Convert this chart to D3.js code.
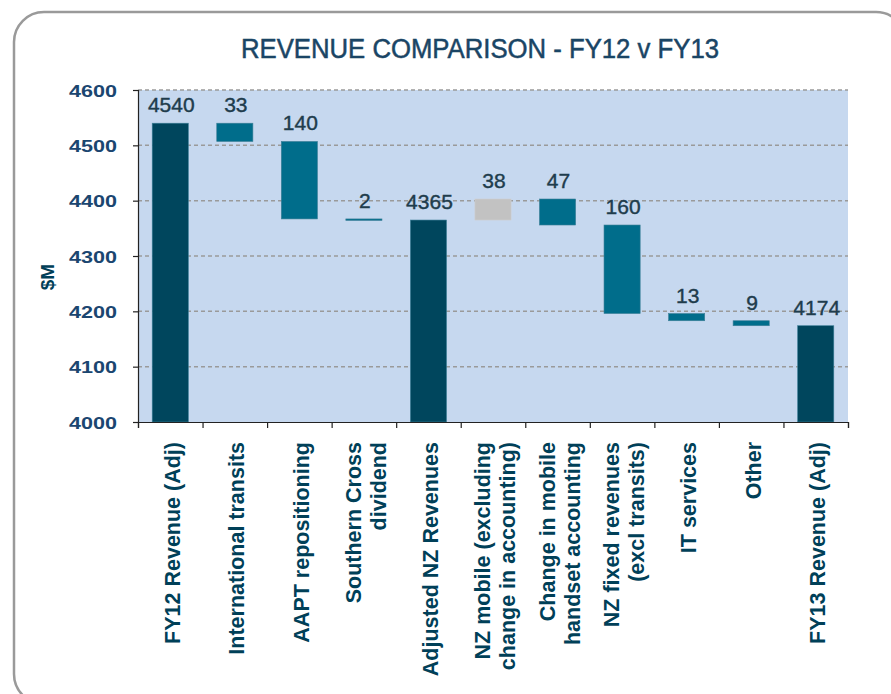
<!DOCTYPE html>
<html>
<head>
<meta charset="utf-8">
<script src="https://cdn.jsdelivr.net/npm/d3@7"></script>
<style>
  html, body { margin: 0; padding: 0; background: #ffffff; }
  svg { display: block; font-family: "Liberation Sans", Arial, sans-serif; }
</style>
</head>
<body>
<svg id="chart" width="891" height="694"></svg>
<script>
// ---- data ----
const categories = [
  ["FY12 Revenue (Adj)"],
  ["International transits"],
  ["AAPT repositioning"],
  ["Southern Cross", "dividend"],
  ["Adjusted NZ Revenues"],
  ["NZ mobile (excluding", "change in accounting)"],
  ["Change in mobile", "handset accounting"],
  ["NZ fixed revenues", "(excl transits)"],
  ["IT services"],
  ["Other"],
  ["FY13 Revenue (Adj)"]
];
const changes = [4540, -33, -140, -2, 4365, 38, -47, -160, -13, -9, 4174];
const kinds = ["total", "down", "down", "down", "total", "up", "down", "down", "down", "down", "total"];
const yTicks = [4000, 4100, 4200, 4300, 4400, 4500, 4600];
const title = "REVENUE COMPARISON - FY12 v FY13";
const yLabel = "$M";

// ---- build waterfall segments ----
let running = 0;
const bars = changes.map((v, i) => {
  let lo, hi;
  if (kinds[i] === "total") { lo = 4000; hi = v; running = v; }
  else { const next = running + v; lo = Math.min(running, next); hi = Math.max(running, next); running = next; }
  return { i, lo, hi, label: String(Math.abs(v)), kind: kinds[i] };
});

const colors = { total: "#00465d", down: "#006d8b", up: "#c2c2c2" };

const svg = d3.select("#chart");
const pLeft = 138, pRight = 848, pTop = 90, pBottom = 422;

// outer rounded frame
svg.append("rect")
  .attr("x", 14).attr("y", 12).attr("width", 892).attr("height", 692)
  .attr("rx", 30).attr("fill", "#ffffff")
  .attr("stroke", "#9a9a9a").attr("stroke-width", 2.5);

// title
svg.append("text")
  .attr("x", 241).attr("y", 58)
  .attr("font-size", 27).attr("fill", "#1a4565")
  .attr("stroke", "#1a4565").attr("stroke-width", 0.5)
  .attr("textLength", 478).attr("lengthAdjust", "spacingAndGlyphs")
  .text(title);

const x = d3.scaleBand().domain(d3.range(categories.length))
  .range([pLeft, pRight]).paddingInner(0.44).paddingOuter(0.22);
const y = d3.scaleLinear().domain([4000, 4600]).range([pBottom, pTop]);
const xb = d3.scaleLinear().domain([0, categories.length]).range([pLeft, pRight]);

// plot background
svg.append("rect")
  .attr("x", pLeft).attr("y", pTop).attr("width", pRight - pLeft).attr("height", pBottom - pTop)
  .attr("fill", "#c6d8ef");

// gridlines
svg.append("g").selectAll("line").data(yTicks.filter(t => t > 4000)).join("line")
  .attr("x1", pLeft).attr("x2", pRight)
  .attr("y1", d => y(d)).attr("y2", d => y(d))
  .attr("stroke", "#9a9a9a").attr("stroke-width", 1.5).attr("stroke-dasharray", "4,3");

// bars
svg.append("g").selectAll("rect").data(bars).join("rect")
  .attr("x", d => x(d.i)).attr("width", x.bandwidth())
  .attr("y", d => y(d.hi)).attr("height", d => Math.max(1.5, y(d.lo) - y(d.hi)))
  .attr("fill", d => colors[d.kind])
  .attr("stroke", d => d.kind === "up" ? "#d0d0d0" : "#3d7f97").attr("stroke-width", 0.6);

// value labels
svg.append("g").selectAll("text").data(bars).join("text")
  .attr("x", d => x(d.i) + x.bandwidth() / 2 + 1)
  .attr("y", d => y(d.hi) - 11)
  .attr("text-anchor", "middle")
  .attr("font-size", 21).attr("fill", "#203c4c")
  .attr("stroke", "#203c4c").attr("stroke-width", 0.4)
  .text(d => d.label);

// y axis
const yAxis = svg.append("g").attr("transform", `translate(${pLeft},0)`)
  .call(d3.axisLeft(y).tickValues(yTicks).tickSize(5).tickFormat(d3.format("d")));
yAxis.select(".domain").attr("stroke", "#222").attr("stroke-width", 1.2);
yAxis.selectAll(".tick line").attr("stroke", "#222").attr("stroke-width", 1.2);
yAxis.selectAll(".tick text")
  .attr("x", -21).attr("dy", "0.36em")
  .attr("font-size", 17).attr("font-weight", "bold")
  .attr("font-family", "Liberation Sans, Arial, sans-serif")
  .attr("fill", "#1b4670")
  .attr("textLength", 48).attr("lengthAdjust", "spacingAndGlyphs");

// bottom axis (category boundary ticks)
const xAxis = svg.append("g").attr("transform", `translate(0,${pBottom})`)
  .call(d3.axisBottom(xb).tickValues(d3.range(categories.length + 1)).tickSize(6).tickFormat(""));
xAxis.select(".domain").attr("stroke", "#222").attr("stroke-width", 1.2);
xAxis.selectAll(".tick line").attr("stroke", "#222").attr("stroke-width", 1.2);

// category labels (rotated)
const catG = svg.append("g").selectAll("g").data(categories).join("g")
  .attr("transform", (d, i) => `translate(${x(i) + x.bandwidth() / 2 + 2},442) rotate(-90)`);
catG.each(function(lines) {
  const g = d3.select(this);
  const n = lines.length;
  const lh = 25;
  lines.forEach((ln, k) => {
    g.append("text")
      .attr("x", 0)
      .attr("y", (k - (n - 1) / 2) * lh + 7.5)
      .attr("text-anchor", "end")
      .attr("font-size", 21.5).attr("font-weight", "bold")
      .attr("fill", "#004058")
      .text(ln);
  });
});

// y axis title
svg.append("text")
  .attr("transform", "translate(54,277) rotate(-90)")
  .attr("text-anchor", "middle")
  .attr("font-size", 19).attr("font-weight", "bold")
  .attr("fill", "#004058")
  .text(yLabel);
</script>
</body>
</html>
